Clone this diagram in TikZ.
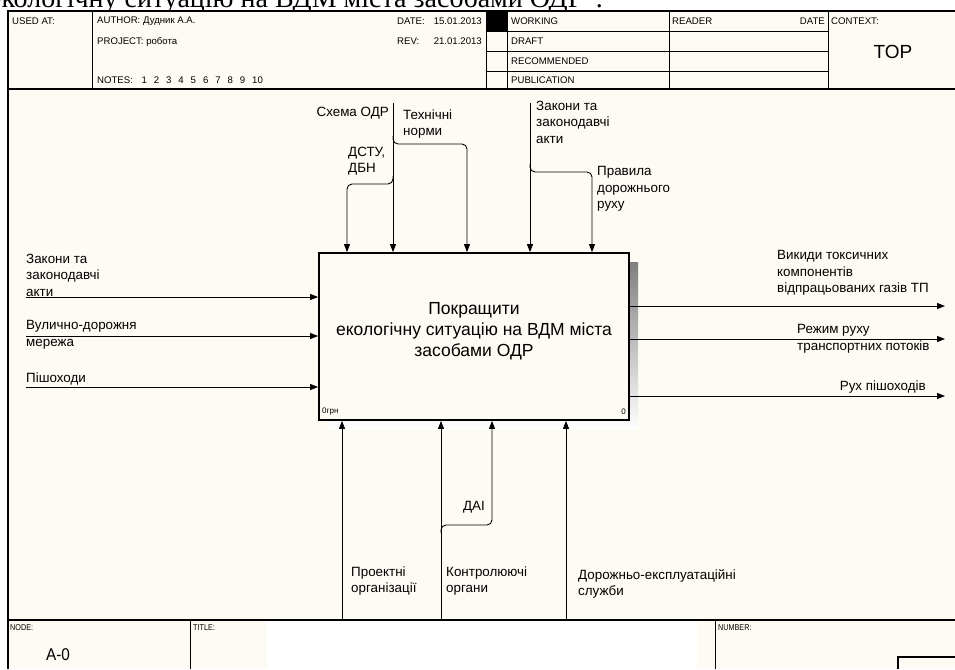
\documentclass[tikz,border=0pt]{standalone}
\usepackage{fontspec}
\setmainfont{Liberation Sans}
\newfontfamily\serifcyr{Liberation Serif}
\usepackage{graphicx}
\usetikzlibrary{arrows.meta}
\definecolor{paper}{RGB}{253,251,243}
\definecolor{shade}{RGB}{150,150,150}
\begin{document}
\begin{tikzpicture}[x=1pt,y=-1pt,
  lbl/.style={font=\fontsize{13.4}{16.5}\selectfont, align=left, inner sep=0pt},
  hdr/.style={font=\fontsize{9.6}{11}\selectfont, inner sep=0pt, anchor=west},
  ftr/.style={font=\fontsize{8.5}{10}\selectfont, inner sep=0pt, anchor=west},
  conn/.style={line width=0.9pt, -{Triangle[length=8pt,width=6pt]}},
  thin/.style={line width=0.9pt}]
\useasboundingbox (0,0) rectangle (955,669);
\fill[white] (0,0) rectangle (955,669);
% caption at the very top, cut by the page edge and the frame
\node[anchor=base east, inner sep=0pt, font=\serifcyr\fontsize{28}{31}\selectfont] (caption) at (603,8) {екологічну ситуацію на ВДМ міста засобами ОДР”.};
\fill[paper] (8,11) rectangle (955,669);
% frame and header
\draw[line width=2pt] (8,669) -- (8,11) -- (955,11);
\draw[line width=1.4pt] (8,89) -- (955,89);
\draw[thin] (92,11) -- (92,89) (486,11) -- (486,89) (507,11) -- (507,89)
  (669,11) -- (669,89) (828,11) -- (828,89)
  (486,31.5) -- (828,31.5) (486,51.5) -- (828,51.5) (486,71) -- (828,71);
\fill (486,11) rectangle (507,31.5);
\node[hdr] (usedat) at (12,21) {USED AT:};
\node[hdr] (author) at (97,21) {AUTHOR: Дудник А.А.};
\node[hdr] (project) at (97,41.5) {PROJECT: робота};
\node[hdr] (notes) at (97,80) {NOTES:};
\foreach \n in {1,...,10} \node[hdr] (note\n) at (129+12.3*\n,80) {\n};
\node[hdr] (date) at (397,21) {DATE:};
\node[hdr, anchor=east] (dateval) at (482,21) {15.01.2013};
\node[hdr] (rev) at (397,41.5) {REV:};
\node[hdr, anchor=east] (revval) at (482,41.5) {21.01.2013};
\node[hdr] (working) at (511,21) {WORKING};
\node[hdr] (draft) at (511,41.5) {DRAFT};
\node[hdr] (recom) at (511,61.5) {RECOMMENDED};
\node[hdr] (publ) at (511,80.5) {PUBLICATION};
\node[hdr] (reader) at (672,21) {READER};
\node[hdr, anchor=east] (rdate) at (825,21) {DATE};
\node[hdr] (context) at (831,21) {CONTEXT:};
\node[font=\fontsize{19}{22}\selectfont, inner sep=0pt] (top) at (893,52) {TOP};
% footer
\fill[white] (267,621) rectangle (697,669);
\draw[line width=1.6pt] (8,620) -- (955,620);
\draw[thin] (190,620) -- (190,669) (715,620) -- (715,669);
\draw[line width=1.2pt] (898,669) -- (898,657) -- (955,657);
\node[ftr] (node) at (10,628) {\scalebox{0.85}[1]{NODE:}};
\node[ftr] (title) at (193,628) {\scalebox{0.85}[1]{TITLE:}};
\node[ftr] (number) at (718,628) {\scalebox{0.85}[1]{NUMBER:}};
\node[font=\fontsize{17}{20}\selectfont, inner sep=0pt] (a0) at (58,655) {\scalebox{0.9}[1]{A-0}};
% activity box
\fill[shade] (328,262) rectangle (638,429);
\node[draw, line width=1.8pt, fill=paper, minimum width=310pt, minimum height=167pt, inner sep=0pt] (act) at (474,336.5) {};
\node[font=\fontsize{17.5}{21}\selectfont, align=center, inner sep=0pt] (acttext) at (474,331) {Покращити\\екологічну ситуацію на ВДМ міста\\засобами ОДР};
\node[font=\fontsize{8}{9}\selectfont, anchor=west, inner sep=0pt] (cost) at (322,412) {0грн};
\node[font=\fontsize{8}{9}\selectfont, anchor=east, inner sep=0pt] (nr) at (626,412) {0};
% inputs
\coordinate (i1) at (26,297);
\coordinate (i2) at (26,336);
\coordinate (i3) at (26,387);
\draw[conn] (i1) -- (i1 -| act.west);
\draw[conn] (i2) -- (i2 -| act.west);
\draw[conn] (i3) -- (i3 -| act.west);
\node[lbl, anchor=west] (li1) at (26,275) {Закони та\\законодавчі\\акти};
\node[lbl, anchor=west] (li2) at (26,335) {Вулично-дорожня\\мережа};
\node[lbl, anchor=west] (li3) at (26,379) {Пішоходи};
% outputs
\coordinate (o1) at (945,306);
\coordinate (o2) at (945,339);
\coordinate (o3) at (945,396);
\draw[conn] (o1 -| act.east) -- (o1);
\draw[conn] (o2 -| act.east) -- (o2);
\draw[conn] (o3 -| act.east) -- (o3);
\node[lbl, anchor=west] (lo1) at (777,273) {Викиди токсичних\\компонентів\\відпрацьованих газів ТП};
\node[lbl, anchor=west] (lo2) at (797,339) {Режим руху\\транспортних потоків};
\node[lbl, anchor=east] (lo3) at (926,387) {Рух пішоходів};
% controls
\coordinate (c1) at (393,103);
\coordinate (c2) at (530,103);
\draw[conn] (c1) -- (c1 |- act.north);
\draw[conn] (c2) -- (c2 |- act.north);
\coordinate (b1) at (393,176);
\coordinate (b2) at (393,136);
\coordinate (b3) at (530,164);
\draw[conn, rounded corners=5pt] (b1) -- (393,184) -- (347,184) -- (347,184 |- act.north);
\draw[conn, rounded corners=5pt] (b2) -- (393,144) -- (467,144) -- (467,144 |- act.north);
\draw[conn, rounded corners=5pt] (b3) -- (530,172) -- (592,172) -- (592,172 |- act.north);
\node[lbl, anchor=east] (lc1) at (389,113) {Схема ОДР};
\node[lbl, anchor=west] (lc2) at (403,124) {Технічні\\норми};
\node[lbl, anchor=west] (lc3) at (348,161) {ДСТУ,\\ДБН};
\node[lbl, anchor=west] (lc4) at (536,122) {Закони та\\законодавчі\\акти};
\node[lbl, anchor=west] (lc5) at (597,189) {Правила\\дорожнього\\руху};
% mechanisms
\coordinate (m1) at (342,620);
\coordinate (m2) at (441,620);
\coordinate (m4) at (566,620);
\draw[conn] (m1) -- (m1 |- act.south);
\draw[conn] (m2) -- (m2 |- act.south);
\draw[conn] (m4) -- (m4 |- act.south);
\coordinate (b4) at (441,533);
\draw[conn, rounded corners=5pt] (b4) -- (441,525) -- (492,525) -- (492,525 |- act.south);
\node[lbl, anchor=west] (lm1) at (351,581) {Проектні\\організації};
\node[lbl, anchor=west] (lm2) at (446,581) {Контролюючі\\органи};
\node[lbl, anchor=west] (lm4) at (578,584) {Дорожньо-експлуатаційні\\служби};
\node[lbl] (lm3) at (474,507) {ДАІ};
\end{tikzpicture}
\end{document}
